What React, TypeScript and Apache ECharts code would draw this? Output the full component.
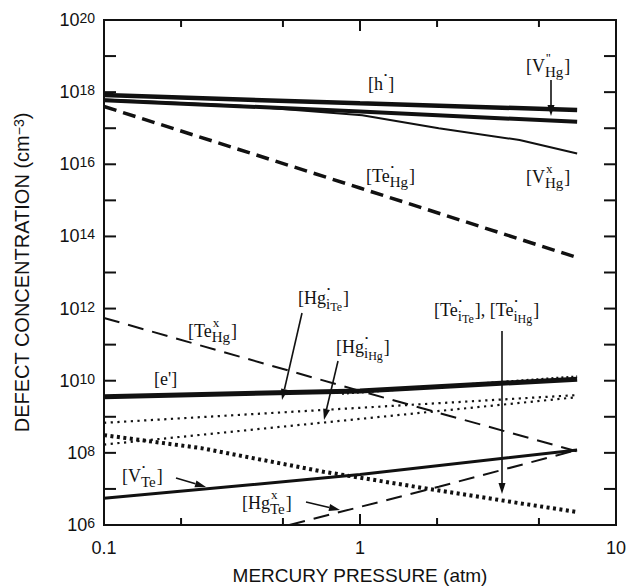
import React, { useEffect, useRef } from 'react';
import * as echarts from 'echarts';

// ---- axes ----
const X_MIN = 0.1;
const X_MAX = 10;
const Y_MIN = 1e6;
const Y_MAX = 1e20;
const xMajorTicks = [1];
const xMinorTicks = [0.2, 0.5, 2, 5];
const yDecadeTicks = [1e7, 1e8, 1e9, 1e10, 1e11, 1e12, 1e13, 1e14, 1e15, 1e16, 1e17, 1e18, 1e19];

// ---- series values: [pressure (atm), concentration (cm^-3)] ----
const holes: number[][] = [[0.1, 8.3e17], [1, 4.9e17], [7.05, 3.2e17]];
const vHgDoubleNeg: number[][] = [[0.1, 6.0e17], [1, 2.9e17], [7.05, 1.5e17]];
const vHgNeutral: number[][] = [[0.1, 6.3e17], [0.34, 4.2e17], [1.02, 2.3e17], [2.03, 1.0e17], [4.2, 4.7e16], [7.05, 2.0e16]];
const teHgPlus: number[][] = [[0.1, 4.0e17], [1, 2.2e15], [7.05, 2.6e13]];
const teHgNeutral: number[][] = [[0.1, 5.5e11], [1, 5.2e9], [7.05, 1.1e8]];
const electrons: number[][] = [[0.1, 3.6e9], [1, 5.2e9], [7.05, 1.1e10]];
const hgITe: number[][] = [[0.85, 4.4e9], [7.05, 1.3e10]];
const hgIHgA: number[][] = [[0.1, 6.8e8], [7.05, 4.0e9]];
const hgIHgB: number[][] = [[0.1, 1.7e8], [7.05, 3.5e9]];
const teI: number[][] = [[0.1, 3.1e8], [0.24, 1.35e8], [0.72, 3.0e7], [1.78, 1.05e7], [4.22, 4.0e6], [7.0, 2.3e6]];
const vTePlus: number[][] = [[0.1, 5.5e6], [1, 2.5e7], [7.05, 1.2e8]];
const hgTeNeutral: number[][] = [[0.53, 1.0e6], [2.03, 1.15e7], [7.05, 1.2e8]];

const INK = '#111';
const SANS = '"Liberation Sans", Arial, Helvetica, sans-serif';
const SERIF = '"Liberation Serif", "DejaVu Serif", "Times New Roman", serif';

const GRID = { left: 104, right: 10, top: 20, bottom: 63 };

let measureCtx: CanvasRenderingContext2D | null = null;
function tw(text: string, size: number): number {
  if (!measureCtx) measureCtx = document.createElement('canvas').getContext('2d');
  if (!measureCtx) return text.length * size * 0.5;
  measureCtx.font = `${size}px ${SERIF}`;
  return measureCtx.measureText(text).width;
}

type Seg = { t?: string; sup?: string; supSize?: number; sub?: string; sub2?: string };
const BASE = 18;
const SUB = 15;
const SUB2 = 12;
const SUP = 13;

function chem(x: number, y: number, segs: Seg[]) {
  const children: any[] = [];
  let cx = x;
  const add = (text: string, px: number, py: number, size: number) => {
    children.push({
      type: 'text',
      x: px,
      y: py,
      style: {
        text,
        font: `${size}px ${SERIF}`,
        fill: INK,
        align: 'left',
        verticalAlign: 'middle',
        textAlign: 'left',
        textVerticalAlign: 'middle',
      },
    });
  };
  for (const s of segs) {
    if (s.t) {
      add(s.t, cx, y, BASE);
      cx += tw(s.t, BASE);
    } else {
      let w = 0;
      if (s.sup) {
        const ss = s.supSize || SUP;
        add(s.sup, cx + 1, y - 9, ss);
        w = Math.max(w, tw(s.sup, ss) + 1);
      }
      if (s.sub) {
        add(s.sub, cx, y + 6, SUB);
        let sw = tw(s.sub, SUB);
        if (s.sub2) {
          add(s.sub2, cx + sw, y + 9, SUB2);
          sw += tw(s.sub2, SUB2);
        }
        w = Math.max(w, sw);
      }
      cx += w + 1;
    }
  }
  return { type: 'group', silent: true, z: 50, children };
}

function arrow(x1: number, y1: number, x2: number, y2: number) {
  const ang = Math.atan2(y2 - y1, x2 - x1);
  const L = 11;
  const W = 3.5;
  const bx = x2 - L * Math.cos(ang);
  const by = y2 - L * Math.sin(ang);
  const nx = -Math.sin(ang);
  const ny = Math.cos(ang);
  return {
    type: 'group',
    silent: true,
    z: 50,
    children: [
      { type: 'line', shape: { x1, y1, x2: bx, y2: by }, style: { stroke: INK, lineWidth: 1.6 } },
      {
        type: 'polygon',
        shape: { points: [[x2, y2], [bx + nx * W, by + ny * W], [bx - nx * W, by - ny * W]] },
        style: { fill: INK },
      },
    ],
  };
}

const DOT = '•';

function lineSeries(name: string, data: number[][], width: number, type: any, z = 3) {
  return {
    name,
    type: 'line',
    data,
    symbol: 'none',
    showSymbol: false,
    z,
    lineStyle: { color: INK, width, type, cap: 'butt' },
  };
}

function xTickSeries(name: string, values: number[], len: number) {
  return {
    type: 'custom',
    name,
    silent: true,
    clip: false,
    z: 6,
    data: values.map((v) => [v, Y_MIN]),
    renderItem: (params: any, api: any) => {
      const cs = params.coordSys;
      const x = api.coord([api.value(0), Y_MIN])[0];
      const bottom = cs.y + cs.height;
      const top = cs.y;
      return {
        type: 'group',
        children: [
          { type: 'line', shape: { x1: x, y1: bottom, x2: x, y2: bottom - len }, style: { stroke: INK, lineWidth: 2 } },
          { type: 'line', shape: { x1: x, y1: top, x2: x, y2: top + len }, style: { stroke: INK, lineWidth: 2 } },
        ],
      };
    },
  };
}

function yTickSeries(name: string, values: number[], len: number) {
  return {
    type: 'custom',
    name,
    silent: true,
    clip: false,
    z: 6,
    data: values.map((v) => [X_MIN, v]),
    renderItem: (params: any, api: any) => {
      const cs = params.coordSys;
      const y = api.coord([X_MIN, api.value(1)])[1];
      const left = cs.x;
      const right = cs.x + cs.width;
      return {
        type: 'group',
        children: [
          { type: 'line', shape: { x1: left, y1: y, x2: left + len, y2: y }, style: { stroke: INK, lineWidth: 2 } },
          { type: 'line', shape: { x1: right, y1: y, x2: right - len, y2: y }, style: { stroke: INK, lineWidth: 2 } },
        ],
      };
    },
  };
}

const labels = [
  chem(368, 84, [{ t: '[h' }, { sup: DOT, supSize: 9 }, { t: ']' }]),
  chem(526, 66, [{ t: '[V' }, { sup: "''", sub: 'Hg' }, { t: ']' }]),
  arrow(551, 80, 551, 116),
  chem(366, 176, [{ t: '[Te' }, { sup: DOT, supSize: 9, sub: 'Hg' }, { t: ']' }]),
  chem(526, 177, [{ t: '[V' }, { sup: 'x', sub: 'Hg' }, { t: ']' }]),
  chem(298, 298, [{ t: '[Hg' }, { sup: DOT, supSize: 9, sub: 'i', sub2: 'Te' }, { t: ']' }]),
  arrow(302, 313, 282, 400),
  chem(188, 331, [{ t: '[Te' }, { sup: 'x', sub: 'Hg' }, { t: ']' }]),
  chem(336, 347, [{ t: '[Hg' }, { sup: DOT, supSize: 9, sub: 'i', sub2: 'Hg' }, { t: ']' }]),
  arrow(338, 361, 324, 420),
  chem(434, 310, [
    { t: '[Te' },
    { sup: DOT, supSize: 9, sub: 'i', sub2: 'Te' },
    { t: '], [Te' },
    { sup: DOT, supSize: 9, sub: 'i', sub2: 'Hg' },
    { t: ']' },
  ]),
  arrow(502, 331, 502, 494),
  chem(154, 379, [{ t: "[e']" }]),
  chem(122, 476, [{ t: '[V' }, { sup: DOT, supSize: 9, sub: 'Te' }, { t: ']' }]),
  arrow(176, 478, 206, 487),
  chem(242, 503, [{ t: '[Hg' }, { sup: 'x', sub: 'Te' }, { t: ']' }]),
  arrow(306, 502, 340, 510),
];

export default function App() {
  const ref = useRef<HTMLDivElement>(null);
  const frameRef = useRef<HTMLDivElement>(null);
  useEffect(() => {
    if (!ref.current || !frameRef.current) return;
    const chart = echarts.init(ref.current, undefined, { renderer: 'svg' });
    const frameChart = echarts.init(frameRef.current, undefined, { renderer: 'svg' });

    const axisLine = () => ({ show: true, onZero: false, lineStyle: { color: INK, width: 2 } });

    const option: any = {
      animation: false,
      backgroundColor: '#fff',
      grid: { ...GRID, containLabel: false, outerBoundsMode: 'none' },
      xAxis: [
        {
          type: 'log',
          logBase: 10,
          min: X_MIN,
          max: X_MAX,
          position: 'bottom',
          axisLine: axisLine(),
          axisTick: { show: false },
          splitLine: { show: false },
          axisLabel: {
            color: INK,
            fontSize: 18,
            fontFamily: SANS,
            margin: 14,
            formatter: (v: number) => String(+Number(v).toPrecision(3)),
          },
          name: 'MERCURY PRESSURE (atm)',
          nameLocation: 'middle',
          nameGap: 41,
          nameTextStyle: { color: INK, fontSize: 19, fontFamily: SANS },
        },
      ],
      yAxis: [
        {
          type: 'log',
          logBase: 100,
          min: Y_MIN,
          max: Y_MAX,
          position: 'left',
          axisLine: axisLine(),
          axisTick: { show: false },
          splitLine: { show: false },
          axisLabel: {
            margin: 9,
            formatter: (v: number) => `{b|10}{s|${Math.round(Math.log10(v))}}`,
            rich: {
              b: { fontSize: 18, fontFamily: SANS, color: INK, lineHeight: 18, padding: [6, 0, 0, 0], verticalAlign: 'bottom' },
              s: { fontSize: 14, fontFamily: SANS, color: INK, lineHeight: 14, verticalAlign: 'top' },
            },
          },
          name: '{n|DEFECT CONCENTRATION (cm}{s|−3}{n|)}',
          nameLocation: 'middle',
          nameGap: 72,
          nameRotate: 90,
          nameTextStyle: {
            rich: {
              n: { fontSize: 20, fontFamily: SANS, color: INK, lineHeight: 20, padding: [5, 0, 0, 0], verticalAlign: 'bottom' },
              s: { fontSize: 14, fontFamily: SANS, color: INK, lineHeight: 14, verticalAlign: 'top' },
            },
          },
        },
      ],
      series: [
        lineSeries('[h•]', holes, 4.5, 'solid'),
        lineSeries("[V''Hg]", vHgDoubleNeg, 4, 'solid'),
        lineSeries('[VxHg]', vHgNeutral, 2, 'solid'),
        lineSeries('[Te•Hg]', teHgPlus, 3.5, [13, 7]),
        lineSeries('[TexHg]', teHgNeutral, 2, [16, 9]),
        lineSeries("[e']", electrons, 5, 'solid', 4),
        lineSeries('[Hg•iTe]', hgITe, 2.5, [2, 3], 5),
        lineSeries('[Hg•iHg] a', hgIHgA, 2.2, [2.2, 4.5]),
        lineSeries('[Hg•iHg] b', hgIHgB, 2.2, [2.2, 4.5]),
        lineSeries('[Te•iTe], [Te•iHg]', teI, 4, [3, 3.5]),
        lineSeries('[V•Te]', vTePlus, 3, 'solid'),
        lineSeries('[HgxTe]', hgTeNeutral, 2, [16, 9]),
      ],
      graphic: labels,
    };
    chart.setOption(option);

    // frame chart on top: same grid and log scales, only the box and its inward ticks
    const frameOption: any = {
      animation: false,
      grid: { ...GRID, containLabel: false, outerBoundsMode: 'none', show: true, borderColor: INK, borderWidth: 2 },
      xAxis: [
        { type: 'log', logBase: 10, min: X_MIN, max: X_MAX, position: 'bottom', axisLine: axisLine(), axisTick: { show: false }, axisLabel: { show: false }, splitLine: { show: false } },
      ],
      yAxis: [
        { type: 'log', logBase: 100, min: Y_MIN, max: Y_MAX, position: 'left', axisLine: axisLine(), axisTick: { show: false }, axisLabel: { show: false }, splitLine: { show: false } },
      ],
      series: [
        xTickSeries('x major ticks', xMajorTicks, 11),
        xTickSeries('x minor ticks', xMinorTicks, 7),
        yTickSeries('y decade ticks', yDecadeTicks, 12),
      ],
    };
    frameChart.setOption(frameOption);

    return () => {
      frameChart.dispose();
      chart.dispose();
    };
  }, []);

  return (
    <div style={{ position: 'absolute', left: 0, top: 0, width: 626, height: 588 }}>
      <div ref={ref} style={{ position: 'absolute', left: 0, top: 0, width: 626, height: 588 }} />
      <div ref={frameRef} style={{ position: 'absolute', left: 0, top: 0, width: 626, height: 588, pointerEvents: 'none' }} />
    </div>
  );
}
